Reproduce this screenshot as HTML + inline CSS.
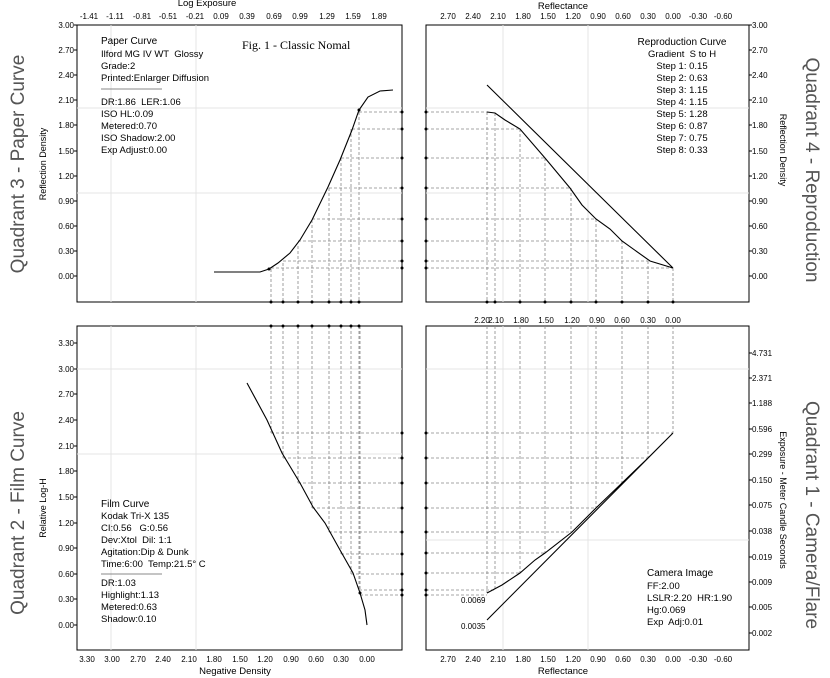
<!DOCTYPE html>
<html><head><meta charset="utf-8"><style>
html,body{margin:0;padding:0;background:#fff}
svg{display:block;font-family:"Liberation Sans",sans-serif}
text{white-space:pre}
.t{font-size:8px;fill:#000}
.l{font-size:9.5px;fill:#000}
.g{stroke:#e4e4e4;stroke-width:1;fill:none}
.d{stroke:#888;stroke-width:0.8;stroke-dasharray:3,2;fill:none}
.c{stroke:#000;stroke-width:1.1;fill:none}
.b{stroke:#000;stroke-width:1;fill:none}
.q{font-size:19px;fill:#555}
</style></head><body>
<svg width="830" height="678" viewBox="0 0 830 678" xmlns="http://www.w3.org/2000/svg">
<rect x="77" y="25" width="325" height="277" class="b"/>
<rect x="426" y="25" width="323" height="277" class="b"/>
<rect x="77" y="326" width="325" height="324" class="b"/>
<rect x="426" y="326" width="323" height="324" class="b"/>
<path class="g" d="M111 25V302M196 25V302M77 108H402M77 193H402M503 25V302M588 25V302M426 108H749M426 193H749M111 326V650M196 326V650M77 369H402M77 454H402M503 326V650M588 326V650M426 369H749M426 540H749"/>
<text x="207" y="6" class="l" text-anchor="middle">Log Exposure</text>
<g class="t" text-anchor="middle">
<text x="89" y="19">-1.41</text><text x="115" y="19">-1.11</text><text x="142" y="19">-0.81</text><text x="168" y="19">-0.51</text><text x="195" y="19">-0.21</text><text x="221" y="19">0.09</text><text x="247" y="19">0.39</text><text x="274" y="19">0.69</text><text x="300" y="19">0.99</text><text x="327" y="19">1.29</text><text x="353" y="19">1.59</text><text x="379" y="19">1.89</text>
</g>
<g class="t" text-anchor="end">
<text x="74" y="28">3.00</text><text x="74" y="53">2.70</text><text x="74" y="78">2.40</text><text x="74" y="103">2.10</text><text x="74" y="128">1.80</text><text x="74" y="154">1.50</text><text x="74" y="179">1.20</text><text x="74" y="204">0.90</text><text x="74" y="229">0.60</text><text x="74" y="254">0.30</text><text x="74" y="279">0.00</text>
</g>
<text transform="translate(46,164) rotate(-90)" class="t" text-anchor="middle" style="font-size:9px">Reflection Density</text>
<text transform="translate(24,164) rotate(-90)" class="q" text-anchor="middle">Quadrant 3 - Paper Curve</text>
<g class="l"><text x="101" y="44" style="font-size:10px">Paper Curve</text><text x="101" y="57">Ilford MG IV WT  Glossy</text><text x="101" y="69">Grade:2</text><text x="101" y="81">Printed:Enlarger Diffusion</text>
<text x="101" y="105">DR:1.86  LER:1.06</text><text x="101" y="117">ISO HL:0.09</text><text x="101" y="129">Metered:0.70</text><text x="101" y="141">ISO Shadow:2.00</text><text x="101" y="153">Exp Adjust:0.00</text></g>
<line x1="101" y1="89" x2="162" y2="89" stroke="#888"/>
<text x="242" y="49" style="font-family:'Liberation Serif',serif;font-size:12px">Fig. 1 - Classic Nomal</text>
<path class="d" d="M271 269V302M283 263V302M298 246V302M312 220V302M329 188V302M341 158V302M351 129V302M359 112V302M359 112H402M352 129H402M341 158H402M329 188H402M312 219H402M298 241H402M283 261H402M271 268H402"/>
<path class="c" d="M214 272L260 272 269 269 278 263 290 253 300 240 312 220 328 187 340 160 352 130 359 110 368 97 380 91 393 90"/>
<text x="563" y="9" class="l" text-anchor="middle">Reflectance</text>
<g class="t" text-anchor="middle">
<text x="448" y="19">2.70</text><text x="473" y="19">2.40</text><text x="498" y="19">2.10</text><text x="523" y="19">1.80</text><text x="548" y="19">1.50</text><text x="573" y="19">1.20</text><text x="598" y="19">0.90</text><text x="623" y="19">0.60</text><text x="648" y="19">0.30</text><text x="673" y="19">0.00</text><text x="698" y="19">-0.30</text><text x="723" y="19">-0.60</text>
</g>
<g class="t"><text x="752" y="28">3.00</text><text x="752" y="53">2.70</text><text x="752" y="78">2.40</text><text x="752" y="103">2.10</text><text x="752" y="128">1.80</text><text x="752" y="154">1.50</text><text x="752" y="179">1.20</text><text x="752" y="204">0.90</text><text x="752" y="229">0.60</text><text x="752" y="254">0.30</text><text x="752" y="279">0.00</text></g>
<text transform="translate(780,150) rotate(90)" class="t" text-anchor="middle" style="font-size:9px">Reflection Density</text>
<text transform="translate(806,170) rotate(90)" class="q" text-anchor="middle">Quadrant 4 - Reproduction</text>
<g class="l" text-anchor="middle"><text x="682" y="45" style="font-size:10px">Reproduction Curve</text><text x="682" y="57">Gradient  S to H</text><text x="682" y="69">Step 1: 0.15</text><text x="682" y="81">Step 2: 0.63</text><text x="682" y="93">Step 3: 1.15</text><text x="682" y="105">Step 4: 1.15</text><text x="682" y="117">Step 5: 1.28</text><text x="682" y="129">Step 6: 0.87</text><text x="682" y="141">Step 7: 0.75</text><text x="682" y="153">Step 8: 0.33</text></g>
<path class="d" d="M426 112H487M426 129H520M426 158H545M426 188H571M426 219H596M426 241H622M426 261H648M426 268H673M487 112V302M495 113V302M520 129V302M545 158V302M571 188V302M596 219V302M622 241V302M648 261V302M673 268V302"/>
<path class="c" d="M487 85L673 268M487 112L495 113 505 120 520 129 545 158 570 188 582 205 596 219 610 229 622 241 650 261 673 268"/>
<g class="t" text-anchor="end">
<text x="74" y="346">3.30</text><text x="74" y="372">3.00</text><text x="74" y="397">2.70</text><text x="74" y="423">2.40</text><text x="74" y="449">2.10</text><text x="74" y="474">1.80</text><text x="74" y="500">1.50</text><text x="74" y="526">1.20</text><text x="74" y="551">0.90</text><text x="74" y="577">0.60</text><text x="74" y="602">0.30</text><text x="74" y="628">0.00</text></g>
<g class="t" text-anchor="middle">
<text x="87" y="662">3.30</text><text x="112" y="662">3.00</text><text x="138" y="662">2.70</text><text x="163" y="662">2.40</text><text x="189" y="662">2.10</text><text x="214" y="662">1.80</text><text x="240" y="662">1.50</text><text x="265" y="662">1.20</text><text x="291" y="662">0.90</text><text x="316" y="662">0.60</text><text x="341" y="662">0.30</text><text x="367" y="662">0.00</text></g>
<text x="235" y="674" class="l" text-anchor="middle">Negative Density</text>
<text transform="translate(46,508) rotate(-90)" class="t" text-anchor="middle" style="font-size:9px">Relative Log-H</text>
<text transform="translate(24,513) rotate(-90)" class="q" text-anchor="middle">Quadrant 2 - Film Curve</text>
<g class="l"><text x="101" y="507" style="font-size:10px">Film Curve</text><text x="101" y="519">Kodak Tri-X 135</text><text x="101" y="531">CI:0.56   G:0.56</text><text x="101" y="543">Dev:Xtol  Dil: 1:1</text><text x="101" y="555">Agitation:Dip &amp; Dunk</text><text x="101" y="567">Time:6:00  Temp:21.5° C</text>
<text x="101" y="586">DR:1.03</text><text x="101" y="598">Highlight:1.13</text><text x="101" y="610">Metered:0.63</text><text x="101" y="622">Shadow:0.10</text></g>
<line x1="101" y1="574" x2="162" y2="574" stroke="#888"/>
<path class="d" d="M271 326V433M283 326V458M298 326V483M312 326V508M329 326V532M341 326V554M351 326V574M359 326V590M360 326V595M271 433H402M283 458H402M298 483H402M312 508H402M329 532H402M341 554H402M351 574H402M359 590H402M360 595H402"/>
<path class="c" d="M247 383L267 420 282 453 300 483 313 507 325 523 340 550 353 573 360 593 365 610 367 625"/>
<g class="t" text-anchor="middle">
<text x="482" y="323">2.20</text><text x="496" y="323">2.10</text><text x="521" y="323">1.80</text><text x="546" y="323">1.50</text><text x="572" y="323">1.20</text><text x="597" y="323">0.90</text><text x="622" y="323">0.60</text><text x="648" y="323">0.30</text><text x="673" y="323">0.00</text>
<text x="448" y="662">2.70</text><text x="473" y="662">2.40</text><text x="498" y="662">2.10</text><text x="523" y="662">1.80</text><text x="548" y="662">1.50</text><text x="573" y="662">1.20</text><text x="598" y="662">0.90</text><text x="623" y="662">0.60</text><text x="648" y="662">0.30</text><text x="673" y="662">0.00</text><text x="698" y="662">-0.30</text><text x="723" y="662">-0.60</text></g>
<text x="563" y="674" class="l" text-anchor="middle">Reflectance</text>
<g class="t"><text x="752" y="356">4.731</text><text x="752" y="381">2.371</text><text x="752" y="406">1.188</text><text x="752" y="432">0.596</text><text x="752" y="457">0.299</text><text x="752" y="483">0.150</text><text x="752" y="508">0.075</text><text x="752" y="534">0.038</text><text x="752" y="560">0.019</text><text x="752" y="585">0.009</text><text x="752" y="610">0.005</text><text x="752" y="636">0.002</text></g>
<text transform="translate(780,500) rotate(90)" class="t" text-anchor="middle" style="font-size:9px">Exposure - Meter Candle Seconds</text>
<text transform="translate(806,515) rotate(90)" class="q" text-anchor="middle">Quadrant 1 - Camera/Flare</text>
<g class="l"><text x="647" y="576" style="font-size:10px">Camera Image</text><text x="647" y="589">FF:2.00</text><text x="647" y="601">LSLR:2.20  HR:1.90</text><text x="647" y="613">Hg:0.069</text><text x="647" y="625">Exp  Adj:0.01</text></g>
<text x="461" y="603" class="t">0.0069</text><text x="461" y="629" class="t">0.0035</text>
<path class="d" d="M487 326V593M495 326V590M520 326V573M545 326V553M571 326V532M596 326V508M622 326V483M648 326V458M673 326V433M426 433H673M426 458H648M426 483H622M426 508H596M426 532H571M426 553H545M426 573H520M426 590H495M426 595H487"/>
<path class="c" d="M487 620L673 433M487 593L502 585 520 573 535 560 545 553 572 532 596 508 622 483 648 458 673 433"/>
<g fill="#000">
<circle cx="271" cy="302" r="1.5"/><circle cx="283" cy="302" r="1.5"/><circle cx="298" cy="302" r="1.5"/><circle cx="312" cy="302" r="1.5"/><circle cx="329" cy="302" r="1.5"/><circle cx="341" cy="302" r="1.5"/><circle cx="351" cy="302" r="1.5"/><circle cx="359" cy="302" r="1.5"/>
<circle cx="402" cy="112" r="1.5"/><circle cx="402" cy="129" r="1.5"/><circle cx="402" cy="158" r="1.5"/><circle cx="402" cy="188" r="1.5"/><circle cx="402" cy="219" r="1.5"/><circle cx="402" cy="241" r="1.5"/><circle cx="402" cy="261" r="1.5"/><circle cx="402" cy="268" r="1.5"/>
<circle cx="426" cy="112" r="1.5"/><circle cx="426" cy="129" r="1.5"/><circle cx="426" cy="158" r="1.5"/><circle cx="426" cy="188" r="1.5"/><circle cx="426" cy="219" r="1.5"/><circle cx="426" cy="241" r="1.5"/><circle cx="426" cy="261" r="1.5"/><circle cx="426" cy="268" r="1.5"/>
<circle cx="487" cy="302" r="1.5"/><circle cx="495" cy="302" r="1.5"/><circle cx="520" cy="302" r="1.5"/><circle cx="545" cy="302" r="1.5"/><circle cx="571" cy="302" r="1.5"/><circle cx="596" cy="302" r="1.5"/><circle cx="622" cy="302" r="1.5"/><circle cx="648" cy="302" r="1.5"/><circle cx="673" cy="302" r="1.5"/>
<circle cx="271" cy="326" r="1.5"/><circle cx="283" cy="326" r="1.5"/><circle cx="298" cy="326" r="1.5"/><circle cx="312" cy="326" r="1.5"/><circle cx="329" cy="326" r="1.5"/><circle cx="341" cy="326" r="1.5"/><circle cx="351" cy="326" r="1.5"/><circle cx="359" cy="326" r="1.5"/>
<circle cx="402" cy="433" r="1.5"/><circle cx="402" cy="458" r="1.5"/><circle cx="402" cy="483" r="1.5"/><circle cx="402" cy="508" r="1.5"/><circle cx="402" cy="532" r="1.5"/><circle cx="402" cy="554" r="1.5"/><circle cx="402" cy="574" r="1.5"/><circle cx="402" cy="590" r="1.5"/><circle cx="402" cy="595" r="1.5"/>
<circle cx="426" cy="433" r="1.5"/><circle cx="426" cy="458" r="1.5"/><circle cx="426" cy="483" r="1.5"/><circle cx="426" cy="508" r="1.5"/><circle cx="426" cy="532" r="1.5"/><circle cx="426" cy="553" r="1.5"/><circle cx="426" cy="573" r="1.5"/><circle cx="426" cy="590" r="1.5"/><circle cx="426" cy="595" r="1.5"/>
<circle cx="269" cy="269" r="1.5"/><circle cx="359" cy="110" r="1.5"/><circle cx="360" cy="593" r="1.5"/>
</g>
<path stroke="#000" stroke-width="1" d="M77 25h-3M77 50h-3M77 75h-3M77 100h-3M77 125h-3M77 151h-3M77 176h-3M77 201h-3M77 226h-3M77 251h-3M77 276h-3M749 25h3M749 50h3M749 75h3M749 100h3M749 125h3M749 151h3M749 176h3M749 201h3M749 226h3M749 251h3M749 276h3M77 343h-3M77 369h-3M77 394h-3M77 420h-3M77 446h-3M77 471h-3M77 497h-3M77 523h-3M77 548h-3M77 574h-3M77 599h-3M77 625h-3M749 353h3M749 378h3M749 403h3M749 429h3M749 454h3M749 480h3M749 505h3M749 531h3M749 557h3M749 582h3M749 607h3M749 633h3"/>
</svg>
</body></html>
